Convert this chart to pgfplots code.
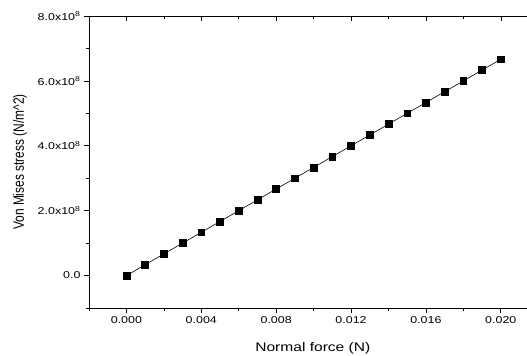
\documentclass[border=0pt]{standalone}
\usepackage{fontspec}
\usepackage{graphicx}
\setmainfont{Liberation Sans}
\newfontfamily\hfont{Liberation Sans}[FakeStretch=1.25]
\usepackage{pgfplots}
\pgfplotsset{compat=1.18}
\begin{document}
\begin{tikzpicture}
\begin{axis}[name=ax, scale only axis, width=438bp, height=292bp,
  xmin=-0.002, xmax=0.0214, ymin=-1e8, ymax=8e8,
  axis x line*=box, axis y line*=left,
  xtick={0,0.004,0.008,0.012,0.016,0.02},
  xticklabels={0.000,0.004,0.008,0.012,0.016,0.020},
  minor xtick={-0.002,0.002,0.006,0.010,0.014,0.018},
  ytick={0,2e8,4e8,6e8,8e8},
  yticklabels={0.0,{2.0x10\textsuperscript{8}},{4.0x10\textsuperscript{8}},{6.0x10\textsuperscript{8}},{8.0x10\textsuperscript{8}}},
  minor ytick={-1e8,1e8,3e8,5e8,7e8},
  xtick pos=bottom, ytick pos=left,
  tick align=outside,
  major tick length=5bp, minor tick length=3bp,
  tick style={black, line width=0.6bp},
  axis line style={black, line width=0.8bp},
  scaled ticks=false,
  tick label style={font=\hfont\fontsize{10}{12}\selectfont},
  xlabel={Normal force (N)},
  xlabel style={font=\hfont\fontsize{12.5}{14}\selectfont, at={(axis description cs:0.511,-0.137)}, anchor=center},
  ylabel={\scalebox{1}[1.25]{Von Mises stress (N/m\textasciicircum 2)}},
  ylabel style={font=\fontsize{12}{14}\selectfont, at={(axis description cs:-0.1575,0.5)}, anchor=center},
]
\addplot[black, line width=0.6bp, mark=square*, mark size=3.4bp, mark options={solid}] coordinates {
(0.000,0) (0.001,3.333e7) (0.002,6.667e7) (0.003,1.0e8) (0.004,1.333e8)
(0.005,1.667e8) (0.006,2.0e8) (0.007,2.333e8) (0.008,2.667e8) (0.009,3.0e8)
(0.010,3.333e8) (0.011,3.667e8) (0.012,4.0e8) (0.013,4.333e8) (0.014,4.667e8)
(0.015,5.0e8) (0.016,5.333e8) (0.017,5.667e8) (0.018,6.0e8) (0.019,6.333e8)
(0.020,6.667e8)
};
\end{axis}
\begin{axis}[scale only axis, width=438bp, height=292bp,
  xmin=-0.002, xmax=0.0214, ymin=-1e8, ymax=8e8,
  axis y line=none, axis x line*=top,
  scaled ticks=false,
  xtick={0,0.004,0.008,0.012,0.016,0.02},
  minor xtick={-0.002,0.002,0.006,0.010,0.014,0.018},
  xticklabels={}, xtick pos=top, tick align=inside,
  major tick length=5bp, minor tick length=3bp,
  tick style={black, line width=0.6bp},
  axis line style={black, line width=0.8bp},
]
\end{axis}
\pgfresetboundingbox
\path[use as bounding box] ([shift={(-89bp,-48bp)}]ax.south west) rectangle ([shift={(0bp,16bp)}]ax.north east);
\end{tikzpicture}
\end{document}
